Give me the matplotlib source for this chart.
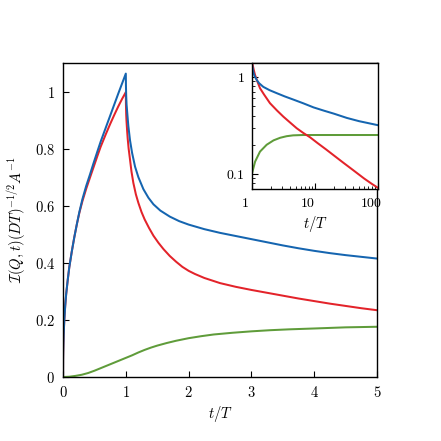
import numpy as np
import matplotlib
matplotlib.use("Agg")
import matplotlib.pyplot as plt
from matplotlib.transforms import ScaledTranslation

plt.rcParams.update({
    "mathtext.fontset": "cm",
    "font.family": "DejaVu Serif",
    "font.size": 10.5,
    "axes.linewidth": 1.0,
})

BLUE = "#1565b0"
RED = "#e3232a"
GREEN = "#5f9c3a"

# --- main panel, values ---
t_blue = [0, 0.001, 0.003, 0.006, 0.01, 0.02, 0.035, 0.05, 0.075, 0.1, 0.14, 0.18, 0.22,
          0.26, 0.31, 0.37, 0.43, 0.48, 0.55, 0.6, 0.68, 0.75, 0.82, 0.88, 0.94, 1.0,
          1.002, 1.006, 1.012, 1.024, 1.04, 1.067, 1.1, 1.147, 1.2, 1.28, 1.36, 1.44,
          1.55, 1.7, 1.85, 2.0, 2.25, 2.5, 2.75, 3.0, 3.25, 3.5, 3.75, 4.0, 4.25, 4.5,
          4.75, 5.0]
v_blue = [0, 0.06, 0.09, 0.118, 0.148, 0.198, 0.25, 0.29, 0.34, 0.385, 0.44, 0.49, 0.535,
          0.578, 0.624, 0.67, 0.71, 0.745, 0.792, 0.825, 0.873, 0.915, 0.957, 0.993, 1.028, 1.063,
          1.02, 0.985, 0.955, 0.922, 0.88, 0.829, 0.785, 0.737, 0.7, 0.658, 0.628, 0.605,
          0.583, 0.562, 0.546, 0.534, 0.518, 0.505, 0.494, 0.483, 0.472, 0.461, 0.451, 0.442,
          0.434, 0.427, 0.421, 0.415]

t_red = [0, 0.001, 0.003, 0.006, 0.01, 0.02, 0.035, 0.05, 0.075, 0.1, 0.14, 0.18, 0.22,
         0.26, 0.31, 0.37, 0.43, 0.48, 0.55, 0.6, 0.68, 0.75, 0.82, 0.88, 0.94, 1.0,
         1.002, 1.006, 1.01, 1.02, 1.03, 1.045, 1.065, 1.09, 1.12, 1.16, 1.2, 1.25, 1.3,
         1.37, 1.44, 1.52, 1.6, 1.7, 1.8, 1.9, 2.0, 2.1, 2.25, 2.5, 2.75, 3.0, 3.25, 3.5,
         3.75, 4.0, 4.25, 4.5, 4.75, 5.0]
v_red = [0, 0.06, 0.09, 0.118, 0.148, 0.198, 0.25, 0.29, 0.34, 0.385, 0.44, 0.49, 0.535,
         0.575, 0.617, 0.66, 0.699, 0.731, 0.776, 0.807, 0.85, 0.886, 0.92, 0.948, 0.974, 0.998,
         0.955, 0.92, 0.9, 0.865, 0.835, 0.8, 0.765, 0.72, 0.68, 0.64, 0.61, 0.578, 0.552,
         0.522, 0.495, 0.47, 0.448, 0.424, 0.404, 0.386, 0.372, 0.361, 0.347, 0.329, 0.316,
         0.305, 0.295, 0.285, 0.275, 0.266, 0.257, 0.249, 0.241, 0.234]

t_green = [0, 0.1, 0.2, 0.3, 0.4, 0.5, 0.6, 0.7, 0.8, 0.9, 1.0, 1.1, 1.2, 1.3, 1.4, 1.5,
           1.65, 1.8, 2.0, 2.2, 2.4, 2.7, 3.0, 3.3, 3.6, 4.0, 4.5, 5.0]
v_green = [0, 0.001, 0.004, 0.008, 0.014, 0.022, 0.031, 0.04, 0.049, 0.058, 0.067, 0.076,
           0.086, 0.095, 0.103, 0.11, 0.119, 0.127, 0.136, 0.143, 0.149, 0.155, 0.16, 0.164,
           0.167, 0.17, 0.174, 0.176]

# --- inset (log-log), values ---
ti_blue = [1.0, 1.05, 1.1, 1.19, 1.3, 1.51, 1.9, 2.47, 3.3, 4.5, 6.5, 9.5, 14, 20, 32, 50,
           75, 100]
vi_blue = [1.35, 1.12, 1.02, 0.93, 0.86, 0.79, 0.73, 0.68, 0.63, 0.585, 0.535, 0.485, 0.448,
           0.418, 0.378, 0.35, 0.331, 0.318]

ti_red = [1.0, 1.026, 1.06, 1.116, 1.2, 1.34, 1.55, 1.93, 2.5, 3.14, 4.0, 5.12, 6.5, 8.33,
          11, 15, 20, 28, 40, 60, 80, 100]
vi_red = [1.42, 1.33, 1.2, 1.05, 0.92, 0.765, 0.66, 0.536, 0.45, 0.39, 0.34, 0.296, 0.265,
          0.239, 0.208, 0.179, 0.155, 0.131, 0.11, 0.09, 0.079, 0.072]

ti_green = [1.0, 1.12, 1.34, 1.71, 2.2, 2.8, 3.55, 4.5, 6.5, 20, 100]
vi_green = [0.101, 0.134, 0.17, 0.2, 0.222, 0.236, 0.245, 0.25, 0.252, 0.252, 0.252]

xticks_main = [0, 1, 2, 3, 4, 5]
yticks_main = [0, 0.2, 0.4, 0.6, 0.8, 1.0]
ylabels_main = ["0", "0.2", "0.4", "0.6", "0.8", "1"]

fig = plt.figure(figsize=(4.41, 4.41), dpi=100)
ax = fig.add_axes([0.1429, 0.1451, 0.712, 0.712])

lw = 1.45
ax.plot(t_green, v_green, color=GREEN, lw=lw)
ax.plot(t_red, v_red, color=RED, lw=lw)
ax.plot(t_blue, v_blue, color=BLUE, lw=lw)

ax.set_xlim(0, 5)
ax.set_ylim(0, 1.1)
ax.set_xticks(xticks_main, [f"${x}$" for x in xticks_main])
ax.set_yticks(yticks_main, [f"${s}$" for s in ylabels_main])
ax.tick_params(direction="in", length=4, width=0.8, pad=5.8, top=False, right=False)
ax.set_xlabel("$t/T$")
ax.xaxis.set_label_coords(0.5, -0.085)
ax.set_ylabel(r"$\mathcal{I}(Q,t)(DT)^{-1/2}A^{-1}$")
ax.yaxis.set_label_coords(-0.11, 0.5)

# inset
ins = fig.add_axes([0.5714, 0.5714, 0.2857, 0.2857])
ins.plot(ti_green, vi_green, color=GREEN, lw=lw)
ins.plot(ti_red, vi_red, color=RED, lw=lw)
ins.plot(ti_blue, vi_blue, color=BLUE, lw=lw)
ins.set_xscale("log")
ins.set_yscale("log")
ins.set_xlim(1, 100)
ins.set_ylim(0.07, 1.39)
ins.set_xticks([1, 10, 100], ["$1$", "$10$", "$100$"])
ins.set_yticks([0.1, 1], ["$0.1$", "$1$"])
ins.tick_params(which="major", direction="in", length=4, width=0.8, pad=5, labelsize=10,
                top=False, right=False)
ins.tick_params(which="minor", direction="in", length=2, width=0.6, top=False, right=False,
                labelbottom=False, labelleft=False)
shift = ScaledTranslation(-0.07, 0, fig.dpi_scale_trans)
for lab in ins.get_xticklabels():
    lab.set_transform(lab.get_transform() + shift)
ins.set_xlabel("$t/T$", fontsize=10.5)
ins.xaxis.set_label_coords(0.5, -0.2)

fig.savefig("out.png", dpi=100)
